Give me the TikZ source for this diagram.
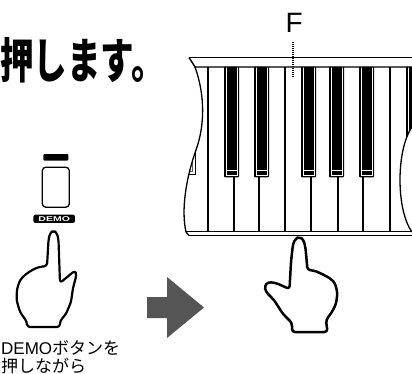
\documentclass[tikz,border=0pt]{standalone}
\usepackage{fontspec}
\setmainfont{Liberation Sans}
\newfontfamily\jp{Noto Sans CJK JP}
\usepackage{tikz}
\definecolor{ink}{HTML}{000000}
\definecolor{tone}{HTML}{555555}
\tikzset{
  hand/.style={draw=ink, fill=white, line width=2.2pt, rounded corners=3pt, line join=round},
  divider/.style={draw=ink, line width=1.2pt},
  rail/.style={draw=ink, line width=1.4pt},
  keyhi/.style={draw=white, line width=0.6pt},
  lab/.style={inner sep=0pt, text=ink},
}

\begin{document}
\begin{tikzpicture}[x=1pt, y=-1pt]
  \useasboundingbox (0,0) rectangle (412,374);

  % heading and caption
  \node[lab, anchor=base west, xscale=0.7, font=\jp\bfseries\fontsize{48}{48}\selectfont] (head) at (0,79) {押します。};
  \node[lab, anchor=base west, font=\fontsize{17}{17}\selectfont] (cap1) at (1,354) {DEMO{\jp ボタンを}};
  \node[lab, anchor=base west, font=\jp\fontsize{17}{17}\selectfont] (cap2) at (1,372.5) {押しながら};

  % DEMO button with its lamp and plate
  \node[fill=ink, inner sep=0pt, minimum width=25pt, minimum height=6.5pt, rounded corners=1pt] (lamp) at (55.8,157.3) {};
  \node[draw=ink, line width=1.3pt, inner sep=0pt, minimum width=27pt, minimum height=40pt, rounded corners=3.5pt] (btn) at (55.8,187.2) {};
  \node[fill=ink, text=white, inner sep=0pt, minimum width=41.5pt, minimum height=8.3pt, rounded corners=2pt,
        font=\bfseries\fontsize{7}{7}\selectfont] (plate) at (54.2,218.8) {\scalebox{1.5}[1]{DEMO}};

  % pressing hand under the button
  \draw[hand] (47,266) -- (48.5,240) -- (50,233) -- (53.5,230.5) -- (57,233) -- (58.5,240) -- (60,283)
    -- (75,270.5) -- (76.5,275) -- (73,288) -- (71,302) -- (66,314) -- (60,321) -- (60,327)
    -- (27,327) -- (27,322) -- (20,312) -- (16.5,300) -- (17,289) -- (20,280) -- (26,274)
    -- (33,269.5) -- (39,267) -- cycle;

  % then-arrow
  \fill[tone] (147,297) -- (167,297) -- (167,277) -- (204,307.5) -- (167,338) -- (167,318) -- (147,318) -- cycle;

  % keyboard, cut away on both sides
  \begin{scope}
    \clip (195,67) .. controls (205,95) and (205,125) .. (196,150)
      .. controls (186,178) and (181,210) .. (186,232) -- (412,232)
      .. controls (396,210) and (396,150) .. (412,127) -- (412,67) -- cycle;
    \foreach \x in {208,285,390}
      \draw[divider] (\x,67) -- (\x,231);
    \foreach \x in {234,259,311,338,363}
      \draw[divider] (\x,177) -- (\x,231);
    \foreach \x in {224,254,301,329,359,406} {
      \fill[ink, rounded corners=1.2pt] (\x,66) rectangle (\x+15,177.5);
      \draw[keyhi] (\x+2,67) -- (\x+2,175.5) -- (\x+13,175.5) -- (\x+13,67);
      \draw[keyhi] (\x+2,170.5) -- (\x+13,170.5);
    }
    % edge of the key left of C
    \draw[ink, line width=0.9pt] (195,148) -- (195,174) -- (184,174);
    \draw[tone, line width=0.6pt] (192.5,150) -- (192.5,171.5) -- (184,171.5);
    \draw[ink, line width=0.8pt] (180,231) -- (412,231);
  \end{scope}

  % frame of the keyboard
  \draw[ink, line width=0.9pt] (189,57.5) -- (412,57.5);
  \draw[rail] (189,57.5) -- (195,67) -- (412,67);
  \draw[ink, line width=1.3pt] (195,67) .. controls (205,95) and (205,125) .. (196,150)
    .. controls (186,178) and (181,210) .. (186,232) -- (189,235.5);
  \draw[ink, line width=1.3pt] (412,127) .. controls (396,150) and (396,210) .. (412,232);
  \draw[rail] (189,235.5) -- (412,235.5);

  % the F key
  \node[lab, anchor=base west, font=\fontsize{28}{28}\selectfont] (Flab) at (285.5,33) {F};
  \coordinate (Fkey) at (293,77);
  \draw[ink, line width=1.3pt, dash pattern=on 1pt off 1pt] ([yshift=-9pt]Flab.south -| Fkey) -- (Fkey);

  % hand on the key
  \draw[hand, line width=2.5pt] (299.5,237) -- (303.5,239.5) -- (305.5,248) -- (307.5,270) -- (314,270.5)
    -- (320,273) -- (326,276) -- (331,279) -- (335,283) -- (337.5,293) -- (336,304) -- (332,312)
    -- (326,320) -- (327.5,332) -- (292,332) -- (292,323) -- (283,314) -- (274,300) -- (266,292)
    -- (264.5,286) -- (268,282) -- (276,283) -- (289.5,289) -- (291,262) -- (293,244) -- (295.5,238.5) -- cycle;
\end{tikzpicture}
\end{document}
